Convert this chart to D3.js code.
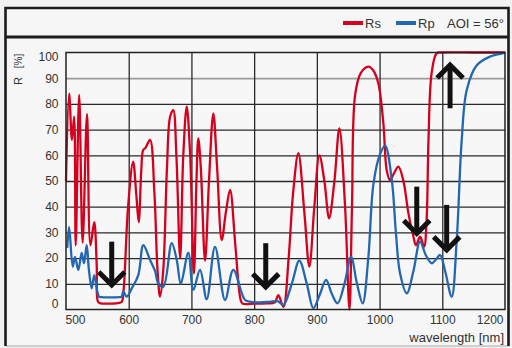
<!DOCTYPE html>
<html><head><meta charset="utf-8">
<script src="https://cdn.jsdelivr.net/npm/d3@7"></script>
<style>
html,body{margin:0;padding:0;background:#f3f3f3;}
svg{display:block;font-family:"Liberation Sans",Arial,sans-serif;}
</style></head>
<body><div id="chart"></div>
<script>
// ---- data ----
const xTicks = [500,600,700,800,900,1000,1100,1200];
const yTicks = [0,10,20,30,40,50,60,70,80,90,100];
const seriesNames = ["Rs","Rp"];
const legendNote = "AOI = 56°";
const xTitle = "wavelength [nm]";

const rsWl  = [500,505,509.5,513,515.5,521,526.5,533.5,539,545,549,551,555,570,585,589,592,599,607,612,616,620,623,627,634,641,646,650,655,661,666,671,676,682,687,692.5,698,704,708,711,715,721.7,728,734.9,741,748.3,755,761.6,770,777.5,781,800,820,833,838.6,846.6,855,862,870.5,880,888,896,904,912,919.5,928,935.9,945,952,956,961,970,982,990,998,1006,1011.5,1016.7,1023,1030,1038,1046,1054,1058,1064.6,1071,1075,1078,1083,1091,1100,1150,1200];
const rsVal = [50,84,66,75,25,83.5,26,76,25,34,17,3,2.4,2.3,2.6,3,8,40,57.5,45,34,54,62,63,66,45,15,5,15,55,75,77.6,60,20,60,79,60,14,50,66.6,55,19,50,76.3,55,27,38,46.5,25,5,2.4,2.3,2.4,2.8,5.6,1,20,45,60.8,38,16.7,40,60,50,35.5,50,70.5,40,0,40,83.5,92,94.5,93,88,72.5,54,50.4,53,55.6,50,37.4,28.3,25,28.3,24.5,35,66,92,99.7,100,100,100];

const rpWl  = [502,505,510.7,514.4,519.6,525,528.7,533,536.7,541,545,550,552.6,556,570,585,588.8,591.4,596.8,604.8,615.3,623.3,634,642,647.2,655.2,668.6,676.6,683,695,703,713.7,724.4,737.6,753.6,766.8,785.5,795,810,825,838,846.6,860,872,884,894.4,905,914.7,924,933,944,954.5,964,973,982,990,1000,1008.8,1019.5,1026,1032.7,1043.4,1054,1064.6,1074,1083.3,1090,1096.5,1104.5,1115,1123,1131,1139,1155,1176,1197,1200];
const rpVal = [24,32,16.7,20.5,15.4,22,18,25,15,8.2,13.4,7,5,4.8,4.7,4.8,5,7,5,8.2,13.4,25,19.3,15,10.2,8.9,25.8,19.3,10,22,7.6,15.4,4,24.4,3.7,15.4,3.7,3,2.8,3,3.2,1.8,10,19,10,0.5,6,11.5,6,2.4,10,20.5,10,2.4,20,48.4,60,63.8,50.4,30,14,6.3,15,26.4,21,18,19.5,21.2,15,5,27,66,85.4,95,98.4,99.7,100];

// annotation arrows: wavelength, tail value, head value
const arrowWl   = [572.9, 818.5, 1059.3, 1107, 1112.4];
const arrowFrom = [26.4, 25.8, 47.8, 40.7, 78.3];
const arrowTo   = [9.5, 8.8, 29.6, 23.2, 95.1];

// ---- drawing ----
const W = 512, H = 348;
const svg = d3.select("#chart").append("svg").attr("width", W).attr("height", H);

const x = d3.scaleLinear().domain([500,1200]).range([66,505]);
const y = d3.scaleLinear().domain([0,100]).range([309.5,52.5]);

// frame
svg.append("rect").attr("x",0).attr("y",0).attr("width",W).attr("height",H).attr("fill","#f1f1f1");
svg.append("rect").attr("x",5.5).attr("y",8).attr("width",503).attr("height",338)
  .attr("fill","#f6f6f6").attr("stroke","none");
svg.append("line").attr("x1",5.5).attr("x2",508.5).attr("y1",346).attr("y2",346).attr("stroke","#aaa").attr("stroke-width",1);
svg.append("path").attr("d","M5.5,346V8H508.5V346").attr("fill","none").attr("stroke","#1c1c1c").attr("stroke-width",2.6);
svg.append("line").attr("x1",5.5).attr("x2",508.5).attr("y1",37).attr("y2",37).attr("stroke","#1c1c1c").attr("stroke-width",3);

// plot background
svg.append("rect").attr("x",x(500)).attr("y",y(100)).attr("width",x(1200)-x(500)).attr("height",y(0)-y(100)).attr("fill","#f7f7f7");

// gridlines
const gy = svg.append("g").attr("transform",`translate(${x(500)},0)`)
  .call(d3.axisLeft(y).tickValues(yTicks.filter(v=>v>0&&v<100)).tickSize(-(x(1200)-x(500))).tickFormat(""));
gy.select(".domain").remove();
gy.selectAll(".tick line").attr("stroke",d=>d===90?"#9a9a9a":"#2a2a2a").attr("stroke-width",d=>d===90?1.8:1.3);

const gx = svg.append("g").attr("transform",`translate(0,${y(0)})`)
  .call(d3.axisBottom(x).tickValues(xTicks.filter(v=>v>500&&v<1200)).tickSize(-(y(0)-y(100))).tickFormat(""));
gx.select(".domain").remove();
gx.selectAll(".tick line").attr("stroke","#2a2a2a").attr("stroke-width",1.3);

// curves
const line = d3.line().x(d=>x(d[0])).y(d=>y(Math.max(0,Math.min(100,d[1])))).curve(d3.curveCatmullRom.alpha(0.5));
const plot = svg.append("g");
plot.append("path").datum(d3.zip(rsWl,rsVal)).attr("d",line).attr("fill","none")
  .attr("stroke","#d5001d").attr("stroke-width",2.3).attr("stroke-linejoin","round");
plot.append("path").datum(d3.zip(rpWl,rpVal)).attr("d",line).attr("fill","none")
  .attr("stroke","#2267b0").attr("stroke-width",2.3).attr("stroke-linejoin","round");

// plot border
svg.append("rect").attr("x",x(500)).attr("y",y(100)).attr("width",x(1200)-x(500)).attr("height",y(0)-y(100))
  .attr("fill","none").attr("stroke","#222").attr("stroke-width",1.5);

// arrows
const ag = svg.append("g").attr("stroke","#111").attr("stroke-width",5).attr("fill","none").attr("stroke-linecap","butt");
arrowWl.forEach((w,i)=>{
  const ax = x(w), y0 = y(arrowFrom[i]), y1 = y(arrowTo[i]);
  const dir = y1>y0 ? 1 : -1;
  ag.append("line").attr("x1",ax).attr("x2",ax).attr("y1",y0).attr("y2",y1 - dir*3);
  ag.append("path").attr("d",`M${ax-13},${y1-dir*13}L${ax},${y1}L${ax+13},${y1-dir*13}`).attr("stroke-linejoin","miter");
});

// y axis labels
const ya = svg.append("g").attr("transform",`translate(${x(500)},0)`)
  .call(d3.axisLeft(y).tickValues(yTicks).tickSize(0).tickPadding(7.5).tickFormat(d3.format("d")));
ya.select(".domain").remove();
ya.selectAll(".tick text").attr("font-size",12).attr("fill","#333").attr("font-family","Liberation Sans, Arial, sans-serif")
  .attr("dy", d=> d===100 ? "0.65em" : d===0 ? "-0.15em" : "0.32em");

// x axis labels
const xa = svg.append("g").attr("transform",`translate(0,${y(0)})`)
  .call(d3.axisBottom(x).tickValues(xTicks).tickSize(0).tickPadding(6).tickFormat(d3.format("d")));
xa.select(".domain").remove();
xa.selectAll(".tick text").attr("font-size",12).attr("fill","#333").attr("font-family","Liberation Sans, Arial, sans-serif")
  .attr("text-anchor", d=> d===500 ? "start" : d===1200 ? "end" : "middle")
  .attr("x", d=> d===500 ? -1 : d===1200 ? -2 : 0);

// axis titles
svg.append("text").attr("x",504).attr("y",342).attr("text-anchor","end").attr("font-size",13)
  .attr("fill","#333").text(xTitle);
svg.append("text").attr("transform","translate(22,81) rotate(-90)").attr("font-size",11).attr("fill","#333").attr("text-anchor","middle").text("R");
svg.append("text").attr("transform","translate(22,61) rotate(-90)").attr("font-size",10).attr("fill","#333").attr("text-anchor","middle").text("[%]");

// legend
const leg = svg.append("g");
const legColors = ["#d5001d","#2267b0"];
const legX = [343, 396];
seriesNames.forEach((n,i)=>{
  leg.append("line").attr("x1",legX[i]).attr("x2",legX[i]+20).attr("y1",23).attr("y2",23)
    .attr("stroke",legColors[i]).attr("stroke-width",4);
  leg.append("text").attr("x",legX[i]+22).attr("y",27.5).attr("font-size",13).attr("fill","#333").text(n);
});
leg.append("text").attr("x",447).attr("y",27.5).attr("font-size",13).attr("fill","#333").text(legendNote);
</script></body></html>
